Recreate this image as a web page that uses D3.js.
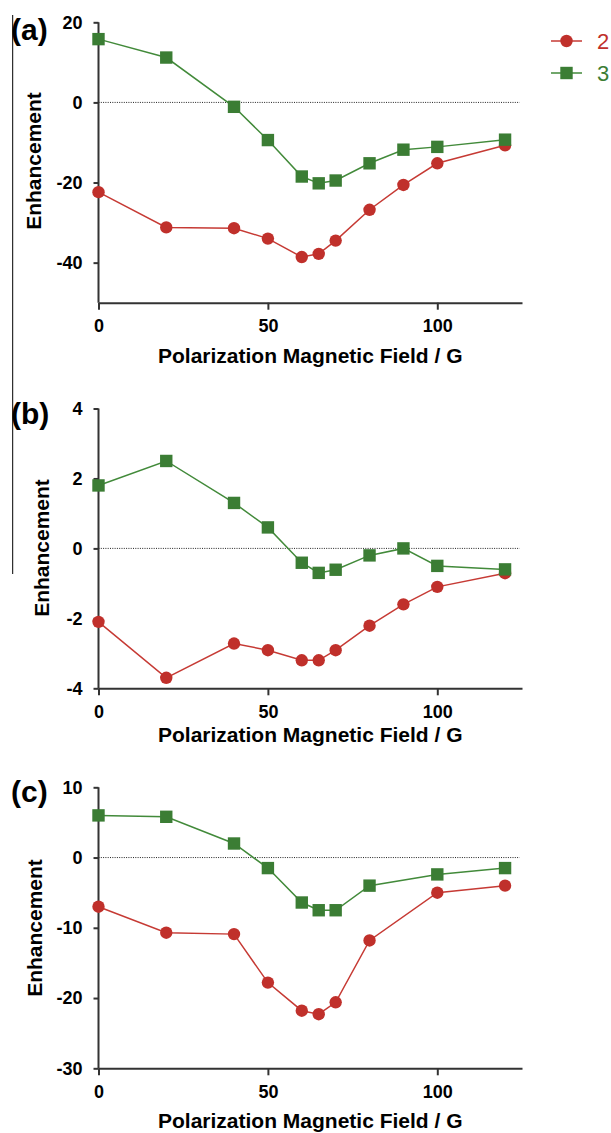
<!DOCTYPE html>
<html>
<head>
<meta charset="utf-8">
<script src="https://cdn.jsdelivr.net/npm/d3@7"></script>
<style>
  html, body { margin: 0; padding: 0; background: #fff; }
  svg { display: block; }
  text { font-family: "Liberation Sans", Arial, Helvetica, sans-serif; }
</style>
</head>
<body>
<svg id="chart" width="611" height="1133"></svg>
<script>
// ---------- data ----------
const fieldAB = [0, 20, 40, 50, 60, 65, 70, 80, 90, 100, 120];
const fieldC  = [0, 20, 40, 50, 60, 65, 70, 80, 100, 120];

const aSeries2 = [-22.4, -31.2, -31.4, -34.0, -38.6, -37.8, -34.5, -26.8, -20.6, -15.2, -10.7];
const aSeries3 = [15.8, 11.2, -1.1, -9.4, -18.5, -20.2, -19.5, -15.2, -11.8, -11.1, -9.3];

const bSeries2 = [-2.1, -3.7, -2.72, -2.91, -3.2, -3.2, -2.91, -2.21, -1.6, -1.1, -0.71];
const bSeries3 = [1.8, 2.5, 1.3, 0.6, -0.41, -0.7, -0.61, -0.2, 0.0, -0.5, -0.6];

const cSeries2 = [-7.0, -10.7, -10.9, -17.8, -21.8, -22.3, -20.6, -11.8, -5.0, -4.0];
const cSeries3 = [6.0, 5.8, 2.0, -1.5, -6.4, -7.5, -7.5, -4.0, -2.4, -1.5];

const seriesNames = ["2", "3"];
const panelLabels = ["(a)", "(b)", "(c)"];
const xTicks = [0, 50, 100];
const xDomain = [0, 125];
const aYTicks = [20, 0, -20, -40];
const bYTicks = [4, 2, 0, -2, -4];
const cYTicks = [10, 0, -10, -20, -30];
const aYDomain = [-50, 20];
const bYDomain = [-4, 4];
const cYDomain = [-30, 10];
const xTitle = "Polarization Magnetic Field / G";
const yTitle = "Enhancement";

// ---------- styling / layout ----------
const colors = ["#c0302b", "#3b7d34"];
const lineColors = ["#c63a34", "#428a3a"];
const left = 98.5, right = 522;
const panels = [
  { label: panelLabels[0], x: fieldAB, s2: aSeries2, s3: aSeries3, ticks: aYTicks, dom: aYDomain,
    top: 22.3, bottom: 302.7, labelBase: 40, yTitleX: 41, yTitleY: 161, xTitleY: 363 },
  { label: panelLabels[1], x: fieldAB, s2: bSeries2, s3: bSeries3, ticks: bYTicks, dom: bYDomain,
    top: 408.5, bottom: 688.3, labelBase: 424, yTitleX: 49, yTitleY: 548, xTitleY: 742 },
  { label: panelLabels[2], x: fieldC, s2: cSeries2, s3: cSeries3, ticks: cYTicks, dom: cYDomain,
    top: 787.3, bottom: 1068.3, labelBase: 802, yTitleX: 42, yTitleY: 928, xTitleY: 1128 }
];

const svg = d3.select("#chart");

// thin frame line at the left edge (present in the reference image)
svg.append("line")
  .attr("x1", 12.7).attr("x2", 12.7).attr("y1", 15).attr("y2", 574)
  .attr("stroke", "#000").attr("stroke-width", 1);

const x = d3.scaleLinear().domain(xDomain).range([left, right]);
const fmt = d => String(d);

panels.forEach(p => {
  const y = d3.scaleLinear().domain(p.dom).range([p.bottom, p.top]);
  const g = svg.append("g");

  // zero dotted line
  g.append("line")
    .attr("x1", x(0)).attr("x2", x(124.3))
    .attr("y1", y(0)).attr("y2", y(0))
    .attr("stroke", "#222").attr("stroke-width", 1)
    .attr("stroke-dasharray", "1,1.3");

  // axes
  const yAxis = d3.axisLeft(y).tickValues(p.ticks).tickSize(5).tickSizeOuter(0).tickPadding(11)
    .tickFormat(fmt);
  const xAxis = d3.axisBottom(x).tickValues(xTicks).tickSize(7).tickSizeOuter(0).tickPadding(10)
    .tickFormat(fmt);

  const ya = g.append("g").attr("transform", `translate(${left},0)`).call(yAxis);
  const xa = g.append("g").attr("transform", `translate(0,${p.bottom})`).call(xAxis);
  [ya, xa].forEach(a => {
    a.select(".domain").attr("stroke", "#333").attr("stroke-width", 2);
    a.selectAll(".tick line").attr("stroke", "#333").attr("stroke-width", 2);
    a.selectAll(".tick text")
      .attr("fill", "#000")
      .style("font-size", "18px").style("font-weight", "bold")
      .style("font-family", '"Liberation Sans", Arial, sans-serif');
  });
  ya.select(".domain").attr("d", `M0,${p.top}V${p.bottom}`);

  // series lines and markers
  const line = d3.line().x((d, i) => x(p.x[i])).y(d => y(d));
  [p.s2, p.s3].forEach((s, k) => {
    g.append("path").datum(s)
      .attr("d", line)
      .attr("fill", "none")
      .attr("stroke", lineColors[k])
      .attr("stroke-width", 1.5);
  });
  g.selectAll("circle.m2").data(p.s2).enter().append("circle")
    .attr("class", "m2")
    .attr("cx", (d, i) => x(p.x[i])).attr("cy", d => y(d)).attr("r", 6.2)
    .attr("fill", colors[0]);
  g.selectAll("rect.m3").data(p.s3).enter().append("rect")
    .attr("class", "m3")
    .attr("x", (d, i) => x(p.x[i]) - 6.2).attr("y", d => y(d) - 6.2)
    .attr("width", 12.4).attr("height", 12.4)
    .attr("fill", colors[1]);

  // titles
  g.append("text")
    .attr("x", (left + right) / 2).attr("y", p.xTitleY)
    .attr("text-anchor", "middle")
    .style("font-size", "21px").style("font-weight", "bold")
    .attr("fill", "#000")
    .text(xTitle);
  g.append("text")
    .attr("transform", `translate(${p.yTitleX},${p.yTitleY}) rotate(-90)`)
    .attr("text-anchor", "middle")
    .style("font-size", "21px").style("font-weight", "bold")
    .attr("fill", "#000")
    .text(yTitle);
  // panel label
  g.append("text")
    .attr("x", 11).attr("y", p.labelBase)
    .style("font-size", "30px").style("font-weight", "bold")
    .attr("fill", "#000")
    .text(p.label);
});

// ---------- legend ----------
const legendY = [41, 73];
seriesNames.forEach((name, k) => {
  const lg = svg.append("g");
  lg.append("line")
    .attr("x1", 551).attr("x2", 582).attr("y1", legendY[k]).attr("y2", legendY[k])
    .attr("stroke", lineColors[k]).attr("stroke-width", 1.5);
  if (k === 0) {
    lg.append("circle").attr("cx", 566.5).attr("cy", legendY[k]).attr("r", 6.2).attr("fill", colors[k]);
  } else {
    lg.append("rect").attr("x", 560.3).attr("y", legendY[k] - 6.2).attr("width", 12.4).attr("height", 12.4)
      .attr("fill", colors[k]);
  }
  lg.append("text")
    .attr("x", 597).attr("y", legendY[k] + 8)
    .style("font-size", "22px")
    .attr("fill", colors[k])
    .text(name);
});
</script>
</body>
</html>
